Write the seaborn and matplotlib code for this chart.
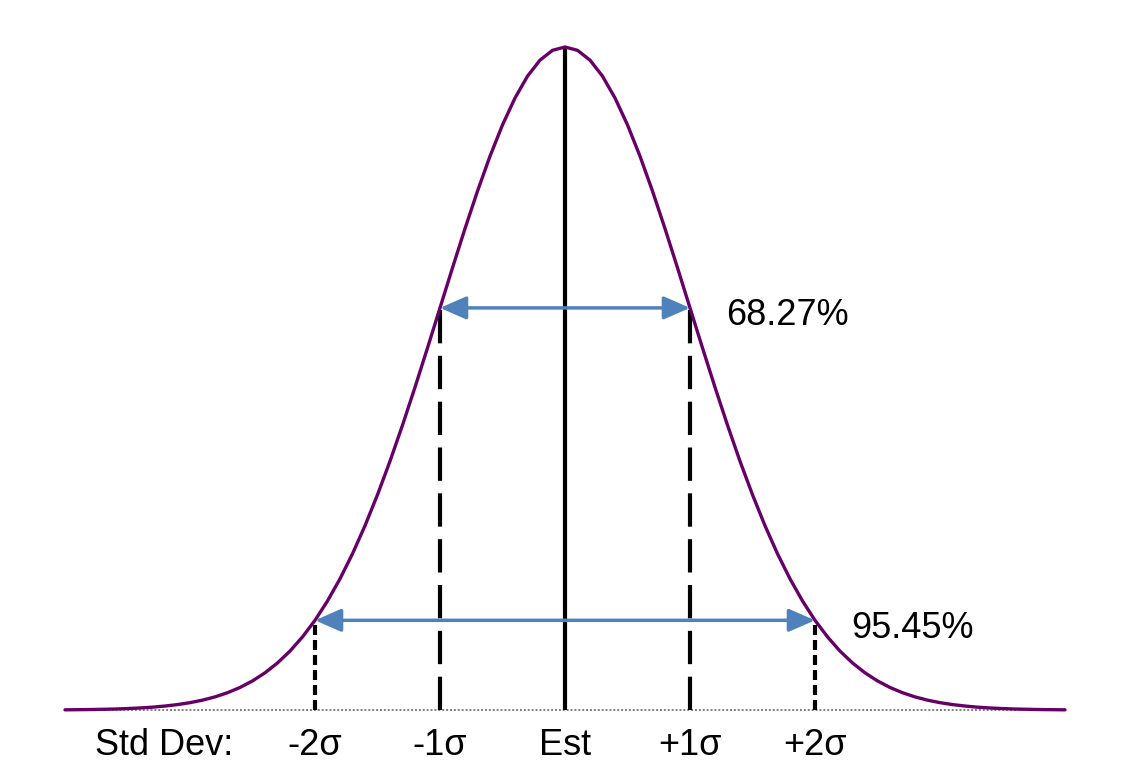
import numpy as np
import pandas as pd
import seaborn as sns
import matplotlib.pyplot as plt

# -------------------------------------------------
# Data (heights relative to the peak)
# -------------------------------------------------
# right half of the bell curve, sampled every 0.1 sigma from 0 to 4
curve_half = [
    1.0000, 0.9950, 0.9802, 0.9560, 0.9231, 0.8825, 0.8353, 0.7827, 0.7261, 0.6670,
    0.6065, 0.5461, 0.4868, 0.4296, 0.3753, 0.3247, 0.2780, 0.2357, 0.1979, 0.1645,
    0.1353, 0.1103, 0.0889, 0.0710, 0.0561, 0.0439, 0.0340, 0.0261, 0.0198, 0.0149,
    0.0111, 0.0082, 0.0060, 0.0043, 0.0031, 0.0022, 0.0015, 0.0011, 0.0007, 0.0005,
    0.0003,
]
sigma_pos = [-2, -1, 0, 1, 2]
sigma_labels = ["-2σ", "-1σ", "Est", "+1σ", "+2σ"]
sigma_heights = [0.1353, 0.6065, 1.0, 0.6065, 0.1353]
coverage_labels = ["68.27%", "95.45%"]
coverage_span = [1, 2]
coverage_heights = [0.6065, 0.1353]

# build the curve table (mirror the half, symmetric)
z_half = np.round(np.arange(len(curve_half)) * 0.1, 1)
curve_df = pd.DataFrame({
    "z": np.concatenate([-z_half[::-1], z_half[1:]]),
    "h": np.concatenate([curve_half[::-1], curve_half[1:]]),
})

# -------------------------------------------------
# Plot
# -------------------------------------------------
sns.set_style("white")
plt.rcParams["font.family"] = ["Liberation Sans", "DejaVu Sans"]
plt.rcParams["text.color"] = "black"

fig = plt.figure(figsize=(11.4, 7.74), dpi=100)
ax = fig.add_axes([0, 0, 1, 1])

purple = "#660066"
blue = "#4F81BD"

# baseline
ax.plot([curve_df["z"].min(), curve_df["z"].max()], [0, 0],
        color="#808080", lw=1.4, ls=(0, (1, 1)), zorder=1)

# vertical markers
styles = {-2: (0, (2.4, 1.2)), -1: (0, (8, 3)), 0: "-", 1: (0, (8, 3)), 2: (0, (2.4, 1.2))}
for pos, top in zip(sigma_pos, sigma_heights):
    ax.plot([pos, pos], [0, top], color="black", lw=3, ls=styles[pos],
            solid_capstyle="butt", zorder=2)

# bell curve
sns.lineplot(data=curve_df, x="z", y="h", color=purple, lw=2.4, ax=ax,
             legend=False, zorder=3, solid_joinstyle="round")

# coverage arrows
for span, h, lab in zip(coverage_span, coverage_heights, coverage_labels):
    ax.annotate("", xy=(span, h), xytext=(-span, h),
                arrowprops=dict(arrowstyle="<|-|>,head_length=0.8,head_width=0.35",
                                color=blue, lw=2.5, shrinkA=0, shrinkB=0,
                                mutation_scale=20),
                zorder=4)
    ax.text(span + 0.29, h - 0.012, lab, fontsize=26, ha="left", va="center",
            color="black")

# x labels
label_y = -0.054
ax.text(-3.76, label_y, "Std Dev:", fontsize=26, ha="left", va="center", color="black")
for pos, lab in zip(sigma_pos, sigma_labels):
    ax.text(pos, label_y, lab, fontsize=26, ha="center", va="center", color="black")

ax.set_xlim(-4.52, 4.6)
ax.set_ylim(-0.0965, 1.0709)
ax.set_xlabel("")
ax.set_ylabel("")
ax.axis("off")

fig.savefig("out.png", dpi=100)
